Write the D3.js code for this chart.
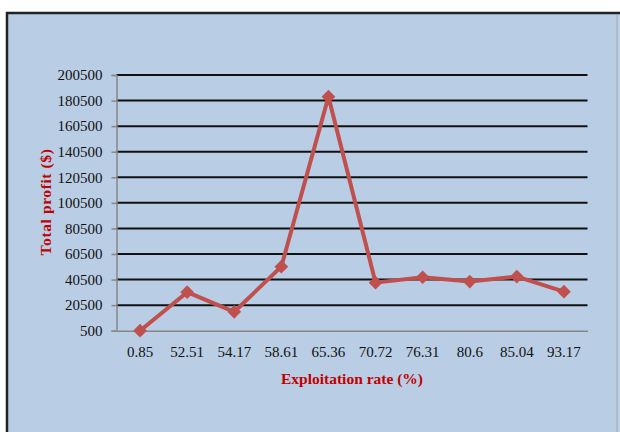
<!DOCTYPE html>
<html>
<head>
<meta charset="utf-8">
<script src="https://cdn.jsdelivr.net/npm/d3@7"></script>
<style>
	body { margin: 0; background: #fff; }
	svg { display: block; }
</style>
</head>
<body>
<div id="chart"></div>
<script>
const rates = ["0.85", "52.51", "54.17", "58.61", "65.36", "70.72", "76.31", "80.6", "85.04", "93.17"]
const profits = [500, 30600, 15300, 50600, 183500, 38100, 42300, 38900, 42800, 31000]
const yTicks = [500, 20500, 40500, 60500, 80500, 100500, 120500, 140500, 160500, 180500, 200500]

const width = 620
const height = 432
const plot = { left: 116.5, right: 587.5, top: 75, bottom: 330.7 }
const serif = "'Liberation Serif', 'Times New Roman', serif"

const svg = d3
	.select("#chart")
	.append("svg")
	.attr("width", width)
	.attr("height", height)

// frame
svg.append("rect")
	.attr("x", 7)
	.attr("y", 13)
	.attr("width", 630)
	.attr("height", 440)
	.attr("fill", "#b9cde5")
	.attr("stroke", "#222")
	.attr("stroke-width", 2.5)

svg.append("line")
	.attr("x1", 617).attr("x2", 617)
	.attr("y1", 14).attr("y2", height)
	.attr("stroke", "#a0a8b0")
	.attr("stroke-width", 1)

const x = d3.scaleBand().domain(rates).range([plot.left, plot.right]).padding(0)
const y = d3.scaleLinear().domain([500, 200500]).range([plot.bottom, plot.top])

// gridlines
svg.append("g")
	.selectAll("line")
	.data(yTicks.slice(1))
	.join("line")
	.attr("x1", plot.left)
	.attr("x2", plot.right)
	.attr("y1", (d) => y(d))
	.attr("y2", (d) => y(d))
	.attr("stroke", "#111")
	.attr("stroke-width", 2)

// y axis
const yAxis = svg.append("g")
	.attr("transform", `translate(${plot.left},0)`)
	.call(d3.axisLeft(y).tickValues(yTicks).tickSize(5).tickPadding(9).tickFormat(d3.format("d")))
yAxis.select(".domain").attr("stroke", "#888").attr("stroke-width", 1.5)
yAxis.selectAll(".tick line").attr("stroke", "#888").attr("stroke-width", 1.5)
yAxis.selectAll(".tick text")
	.attr("fill", "#111")
	.style("font-family", serif)
	.style("font-size", "15px")

// x axis
const xAxis = svg.append("g")
	.attr("transform", `translate(0,${plot.bottom})`)
	.call(d3.axisBottom(x).tickSize(0).tickPadding(16))
xAxis.select(".domain").attr("stroke", "#888").attr("stroke-width", 1.5)
xAxis.selectAll(".tick text")
	.attr("fill", "#111")
	.style("font-family", serif)
	.style("font-size", "15px")

// series
const data = rates.map((r, i) => ({ rate: r, profit: profits[i] }))
const cx = (d) => x(d.rate) + x.bandwidth() / 2

svg.append("path")
	.datum(data)
	.attr("fill", "none")
	.attr("stroke", "#c0504d")
	.attr("stroke-width", 4)
	.attr("stroke-linejoin", "round")
	.attr("d", d3.line().x(cx).y((d) => y(d.profit)))

svg.append("g")
	.selectAll("path")
	.data(data)
	.join("path")
	.attr("transform", (d) => `translate(${cx(d)},${y(d.profit)})`)
	.attr("d", d3.symbol(d3.symbolDiamond2, 120))
	.attr("fill", "#c0504d")

// axis titles
svg.append("text")
	.attr("x", 352)
	.attr("y", 384)
	.attr("text-anchor", "middle")
	.attr("fill", "#c00000")
	.style("font-family", serif)
	.style("font-size", "15.5px")
	.style("font-weight", "bold")
	.text("Exploitation rate (%)")

svg.append("text")
	.attr("transform", "translate(51,202) rotate(-90)")
	.attr("text-anchor", "middle")
	.attr("fill", "#c00000")
	.style("font-family", serif)
	.style("font-size", "15.5px")
	.style("font-weight", "bold")
	.style("letter-spacing", "0.6px")
	.text("Total profit ($)")
</script>
</body>
</html>
